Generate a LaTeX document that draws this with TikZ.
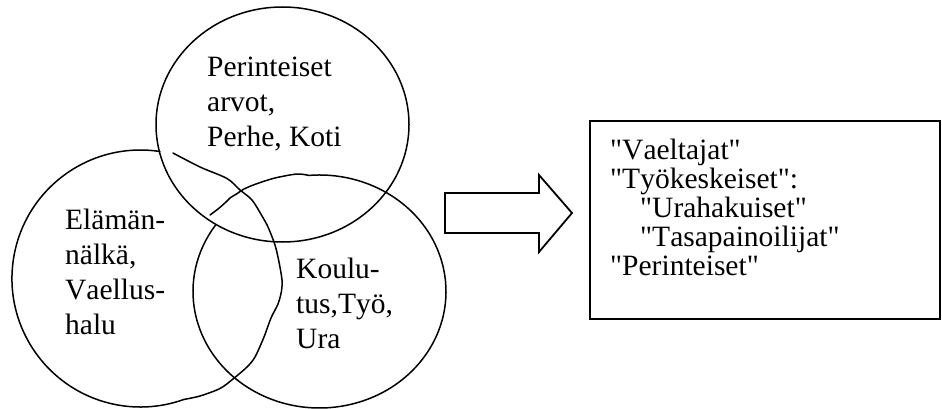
\documentclass[tikz,border=0pt]{standalone}
\usepackage{fontspec}
\setmainfont{Liberation Serif}[Kerning=Off, Ligatures=TeXOff]
\newcommand{\lines}[1]{\begin{tabular}[t]{@{}l@{}}#1\end{tabular}}
\tikzset{
  lbl/.style={anchor=base west, inner sep=0pt, font=\fontsize{29.5}{35}\selectfont},
  boxlbl/.style={anchor=base west, inner sep=0pt, font=\fontsize{29.5}{28.3}\selectfont},
  ln/.style={line width=1.5pt, black, line join=round, line cap=round},
  boxln/.style={line width=1.8pt, black}
}
\begin{document}
\begin{tikzpicture}[x=1pt,y=-1pt]
\useasboundingbox (0,0) rectangle (942,409);
% top circle
\draw[ln] (282.5,124.5) ellipse[x radius=126.5, y radius=117.5];
% left shape: arc plus hand-drawn right side
\draw[ln] (159.9,151.5) arc[start angle=-81.3, end angle=-289.8, radius=128.5];
\draw[ln] plot[smooth, tension=0.5] coordinates {(184,399.4) (200,396) (220,388.5) (233,379) (247,367) (255,357) (264,337) (271,318) (278,304) (281.5,291) (282,280) (279,262) (275,245) (268,227) (262,216) (252,200) (240,190) (227,178.5) (200,167) (173,153)};
% right shape: arc plus hand-drawn top-left part
\draw[ln] (215.25,225.5) arc[start angle=214.5, end angle=-95, x radius=126.5, y radius=116.5];
\draw[ln] plot[smooth, tension=0.5] coordinates {(308.5,175.4) (297,174) (275,178) (256,184) (244,189) (238,193) (230,198) (226,202) (218,209) (210,215)};
% texts in circles
\node[lbl] (top) at (207,77) {\lines{Perinteiset\\arvot,\\Perhe, Koti}};
\node[lbl] (left) at (65,229) {\lines{Elämän-\\nälkä,\\Vaellus-\\halu}};
\node[lbl] (right) at (296,278) {\lines{Koulu-\\tus,Työ,\\Ura}};
% block arrow
\draw[boxln, line join=miter] (445,193) -- (539,193) -- (539,175) -- (572,213) -- (539,252) -- (539,233) -- (445,233) -- cycle;
% result box
\node[draw, boxln, anchor=north west, minimum width=350pt, minimum height=198pt, inner sep=0pt] (box) at (589,120) {};
\node[boxlbl] (boxtext) at (610,160) {\lines{"Vaeltajat"\\"Työkeskeiset":\\\hspace{30pt}"Urahakuiset"\\\hspace{30pt}"Tasapainoilijat"\\"Perinteiset"}};
\end{tikzpicture}
\end{document}
